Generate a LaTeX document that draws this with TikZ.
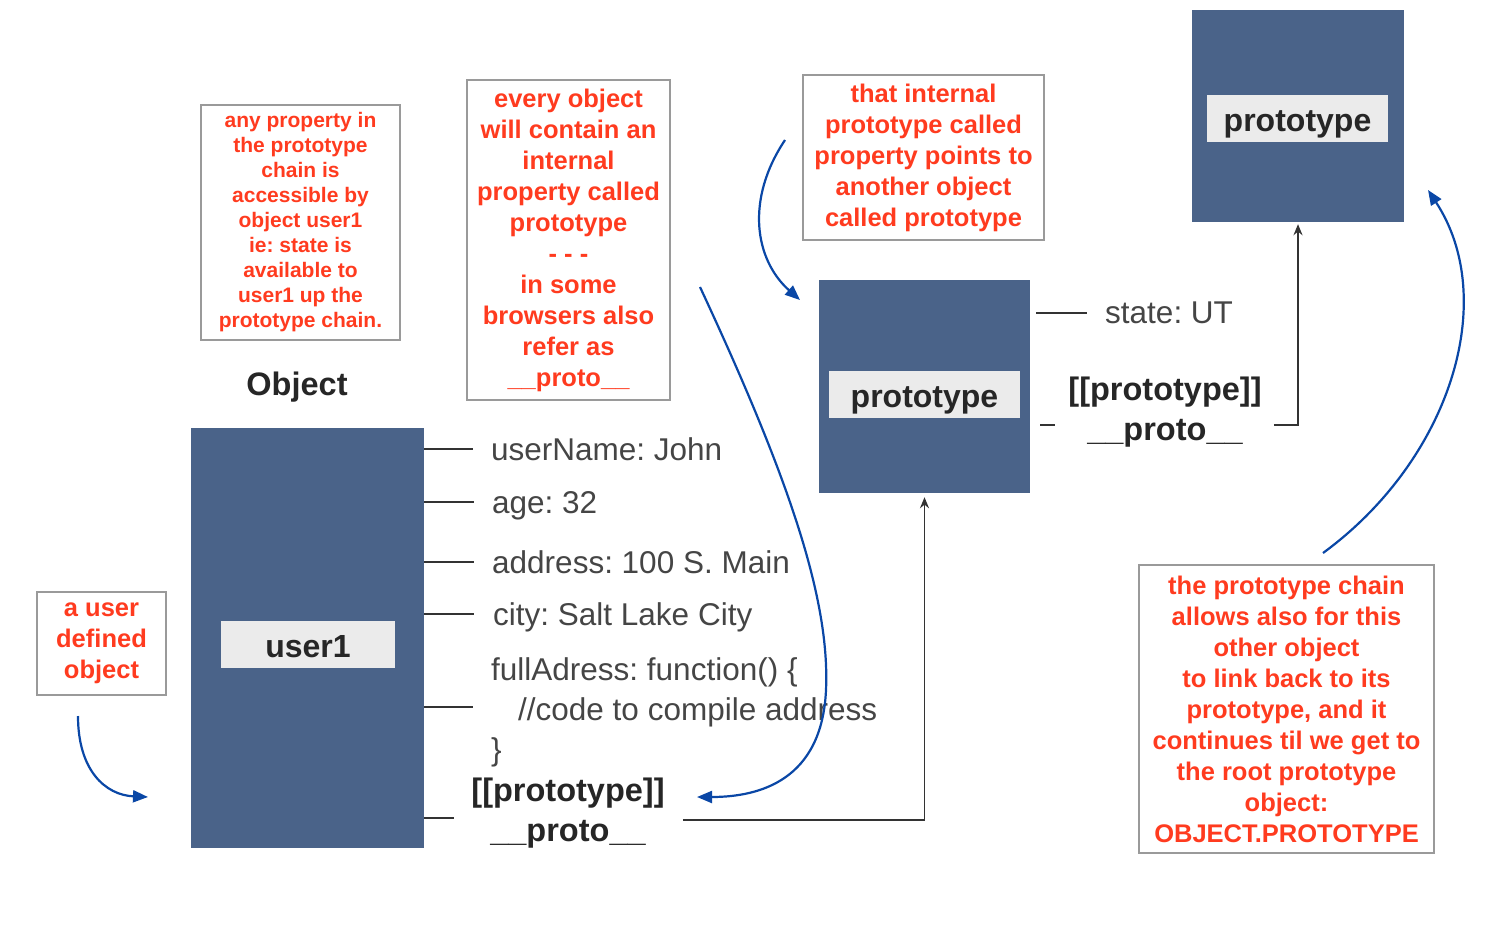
\documentclass[tikz,border=0pt]{standalone}
\usepackage{fontspec}
\setmainfont{Liberation Sans}
\usetikzlibrary{arrows.meta}
\definecolor{slate}{HTML}{4A6389}
\definecolor{alert}{HTML}{FF3B1F}
\definecolor{ink}{HTML}{454545}
\definecolor{frame}{HTML}{9A9A9A}
\definecolor{chipgray}{HTML}{EBEBEB}
\definecolor{flow}{HTML}{0A47A6}
\begin{document}
\frenchspacing
\begin{tikzpicture}[
  x=1pt, y=-1pt,
  every node/.style={inner sep=0pt},
  note/.style={draw=frame, line width=1.5pt, align=center, text=alert, font=\fontsize{25.5}{31}\selectfont\bfseries},
  objbox/.style={fill=slate},
  chip/.style={fill=chipgray, minimum height=47pt, text height=26pt, text depth=0pt, text=black!85, font=\fontsize{32}{36}\selectfont\bfseries}
]
\tikzset{
  prop/.style={anchor=west, text depth=0pt, text=ink, font=\fontsize{31.5}{40}\selectfont},
  bold/.style={align=center, text=black!85, font=\fontsize{32.5}{40}\selectfont\bfseries},
  tick/.style={draw=black!80, line width=1.8pt},
  link/.style={draw=black!80, line width=1.8pt, -{Stealth[length=11pt,width=9pt]}},
  curve/.style={draw=flow, line width=2.2pt, -{Triangle[length=15pt,width=12pt]}}
}
\useasboundingbox (0,0) rectangle (1507,937);

\node[note, minimum width=199pt, minimum height=235pt, font=\fontsize{21}{25}\selectfont\bfseries] (chainnote) at (300.5,222.5)
  {any property in\\the prototype\\chain is\\accessible by\\object user1\\ie: state is\\available to\\user1 up the\\prototype chain.};
\node[note, minimum width=203pt, minimum height=320pt] (innernote) at (568.5,240)
  {every object\\will contain an\\internal\\property called\\prototype\\- - -\\in some\\browsers also\\refer as\\\_\_proto\_\_};
\node[note, minimum width=241pt, minimum height=165pt] (pointnote) at (923.5,157.5)
  {that internal\\prototype called\\property points to\\another object\\called prototype};
\node[note, minimum width=129pt, minimum height=103pt] (usernote) at (101.5,643.5)
  {a user\\defined\\object};
\node[note, minimum width=295pt, minimum height=288pt] (rootnote) at (1286.5,709)
  {the prototype chain\\allows also for this\\other object\\to link back to its\\prototype, and it\\continues til we get to\\the root prototype\\object:\\OBJECT.PROTOTYPE};

\node[bold] (objlabel) at (297,387) {Object};

\node[objbox, minimum width=233pt, minimum height=420pt] (user1) at (307.5,638) {};
\node[chip, minimum width=174pt] (user1tag) at (308,644.5) {user1};
\node[objbox, minimum width=211pt, minimum height=213pt] (midbox) at (924.5,386.5) {};
\node[chip, minimum width=191pt] (midtag) at (924.5,394.5) {prototype};
\node[objbox, minimum width=212pt, minimum height=212pt] (topbox) at (1298,116) {};
\node[chip, minimum width=181pt] (toptag) at (1297.5,118.5) {prototype};

\node[prop] (uname) at (491,449) {userName: John};
\node[prop] (age) at (492,502) {age: 32};
\node[prop] (addr) at (492,562) {address: 100 S. Main};
\node[prop] (city) at (493,614) {city: Salt Lake City};
\node[prop, align=left] (fulladdr) at (491,709) {fullAdress: function() \{\\\hspace*{27pt}//code to compile address\\\}};
\node[bold] (proto1) at (568,813) {[[prototype]]\\\_\_proto\_\_};

\node[prop] (state) at (1105,313) {state: UT};
\node[bold] (proto2) at (1165,412) {[[prototype]]\\\_\_proto\_\_};

\draw[tick] (user1.east |- uname.west) -- ([xshift=-18pt]uname.west);
\draw[tick] (user1.east |- age.west) -- ([xshift=-18pt]age.west);
\draw[tick] (user1.east |- addr.west) -- ([xshift=-18pt]addr.west);
\draw[tick] (user1.east |- city.west) -- ([xshift=-19pt]city.west);
\draw[tick] ([yshift=2pt]user1.east |- fulladdr.west) -- ([xshift=-18pt,yshift=2pt]fulladdr.west);
\draw[tick] ([yshift=-5pt]user1.east |- proto1.west) -- ([xshift=-17pt,yshift=-5pt]proto1.west);
\draw[link] ([xshift=18pt,yshift=-7pt]proto1.east) -| ([yshift=-4pt]midbox.south);

\draw[tick] ([xshift=6pt]midbox.east |- state.west) -- ([xshift=-18pt]state.west);
\draw[tick] ([xshift=10pt,yshift=-13pt]midbox.east |- proto2.west) -- ([xshift=25pt,yshift=-13pt]midbox.east |- proto2.west);
\draw[link] ([xshift=12pt,yshift=-13pt]proto2.east) -| ([yshift=-2pt]topbox.south);

\coordinate (userfrom) at (78,716);
\coordinate (userto) at (148,797);
\coordinate (pointfrom) at (785,140);
\coordinate (pointto) at (800,300);
\coordinate (innerfrom) at (700,287);
\coordinate (innerto) at (697,797);
\coordinate (rootfrom) at (1323,553);
\coordinate (rootto) at (1428,190);

\draw[curve] (userfrom) .. controls (78,770) and (105,795) .. (userto);
\draw[curve] (pointfrom) .. controls (745,200) and (755,260) .. (pointto);
\draw[curve] (innerfrom) .. controls (790,480) and (830,600) .. (826,690) .. controls (822,780) and (760,797) .. (innerto);
\draw[curve] (rootfrom) .. controls (1450,460) and (1500,300) .. (rootto);
\end{tikzpicture}
\end{document}
